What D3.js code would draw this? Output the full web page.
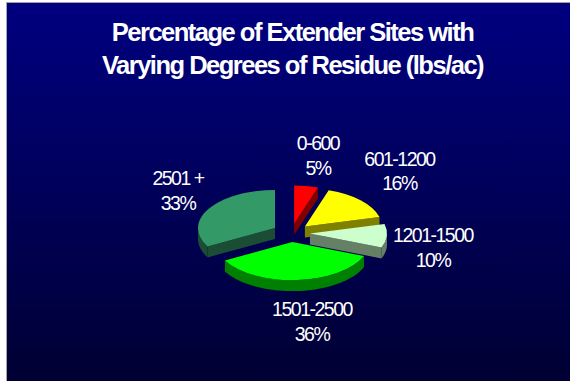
<!DOCTYPE html>
<html>
<head>
<meta charset="utf-8">
<script src="https://cdn.jsdelivr.net/npm/d3@7/dist/d3.min.js"></script>
<style>
html,body{margin:0;padding:0;background:#fff}
svg{display:block}
text{font-family:"Liberation Sans",Arial,sans-serif;fill:#fff}
</style>
</head>
<body>
<svg id="chart" width="570" height="381"></svg>
<script>
// Residue classes (lbs/ac) and the share of sites in each
const categories = ["0-600", "601-1200", "1201-1500", "1501-2500", "2501 +"];
const shares = [5, 16, 10, 36, 33];
const topColors = ["#ff0000", "#ffff00", "#ccffcc", "#00ff00", "#339966"];
const sideColors = ["#800000", "#808000", "#668066", "#008000", "#1a4d33"];
const titleLines = ["Percentage of Extender Sites with", "Varying Degrees of Residue (lbs/ac)"];

const svg = d3.select("#chart");
const defs = svg.append("defs");
const grad = defs.append("linearGradient").attr("id", "bg").attr("x1", 0).attr("y1", 0).attr("x2", 0).attr("y2", 1);
grad.append("stop").attr("offset", "0").attr("stop-color", "#000080");
grad.append("stop").attr("offset", "1").attr("stop-color", "#000033");

// Slide background, inset from the top and left edges
svg.append("rect").attr("x", 6).attr("y", 2).attr("width", 564).attr("height", 1).attr("fill", "#a0a0a0");
svg.append("rect").attr("x", 6).attr("y", 3).attr("width", 1).attr("height", 378).attr("fill", "#a8a8a8");
svg.append("rect").attr("x", 7).attr("y", 3).attr("width", 563).attr("height", 378).attr("fill", "url(#bg)");

svg.selectAll("text.title").data(titleLines).join("text")
  .attr("class", "title")
  .attr("x", 292.5)
  .attr("y", (d, i) => 41 + i * 33)
  .attr("text-anchor", "middle")
  .attr("font-size", 25.5)
  .attr("font-weight", "bold")
  .attr("letter-spacing", -1.5)
  .text(d => d);

// Pie geometry: a flattened disc with every slice pulled out along its mid angle
const cx = 291.2, cy = 232.8, rx = 77, tilt = 0.494, depth = 11, explode = 18.8;
const pie = d3.pie().sort(null).value(d => d.share);
const slices = pie(shares.map((share, i) => ({ share, i })));
const arc = d3.arc().innerRadius(0).outerRadius(rx);
const px = a => rx * Math.sin(a);
const py = a => -rx * tilt * Math.cos(a);

const layer = svg.append("g");

slices.forEach(s => {
  const mid = (s.startAngle + s.endAngle) / 2;
  s.ox = cx + explode * Math.sin(mid);
  s.oy = cy - explode * tilt * Math.cos(mid);
});

// Outer wall: the part of the rim that faces the viewer
function wallPath(s) {
  const a0 = Math.max(s.startAngle, Math.PI / 2);
  const a1 = Math.min(s.endAngle, Math.PI * 3 / 2);
  if (a1 <= a0) return null;
  const p = d3.path();
  const n = 48;
  d3.range(n + 1).forEach(k => {
    const a = a0 + (a1 - a0) * k / n;
    if (k === 0) p.moveTo(s.ox + px(a), s.oy + py(a));
    else p.lineTo(s.ox + px(a), s.oy + py(a));
  });
  d3.range(n, -1, -1).forEach(k => {
    const a = a0 + (a1 - a0) * k / n;
    p.lineTo(s.ox + px(a), s.oy + py(a) + depth);
  });
  p.closePath();
  return p.toString();
}

// Flat cut face running from the slice centre to the rim at angle a
function cutPath(s, a) {
  const p = d3.path();
  p.moveTo(s.ox, s.oy);
  p.lineTo(s.ox + px(a), s.oy + py(a));
  p.lineTo(s.ox + px(a), s.oy + py(a) + depth);
  p.lineTo(s.ox, s.oy + depth);
  p.closePath();
  return p.toString();
}

// Back slices first so the front ones overlap them
const order = [0, 4, 1, 2, 3];
order.forEach(i => {
  const s = slices[i];
  const g = layer.append("g");
  const side = sideColors[i];
  // a cut face shows only when it turns toward the viewer
  if (s.endAngle < Math.PI) {
    g.append("path").attr("d", cutPath(s, s.endAngle)).attr("fill", side);
  }
  if (s.startAngle > Math.PI) {
    g.append("path").attr("d", cutPath(s, s.startAngle)).attr("fill", side);
  }
  const w = wallPath(s);
  if (w) g.append("path").attr("d", w).attr("fill", side);
  g.append("path")
    .attr("d", arc(s))
    .attr("transform", `translate(${s.ox},${s.oy}) scale(1,${tilt})`)
    .attr("fill", topColors[i]);
});

// Two-line labels: class name over its percentage
const labelSpots = [
  { x: 318, y: 150 }, { x: 399.5, y: 165.5 }, { x: 433, y: 242 }, { x: 312, y: 316 }, { x: 178, y: 185 }
];
const labels = svg.selectAll("g.label").data(slices).join("g").attr("class", "label");
labels.append("text").attr("x", (d, i) => labelSpots[i].x).attr("y", (d, i) => labelSpots[i].y)
  .attr("text-anchor", "middle").attr("font-size", 19.5).attr("letter-spacing", -1.5)
  .text((d, i) => categories[i]);
labels.append("text").attr("x", (d, i) => labelSpots[i].x).attr("y", (d, i) => labelSpots[i].y + 24.6)
  .attr("text-anchor", "middle").attr("font-size", 19.5).attr("letter-spacing", -1.5)
  .text(d => d.value + "%");
</script>
</body>
</html>
